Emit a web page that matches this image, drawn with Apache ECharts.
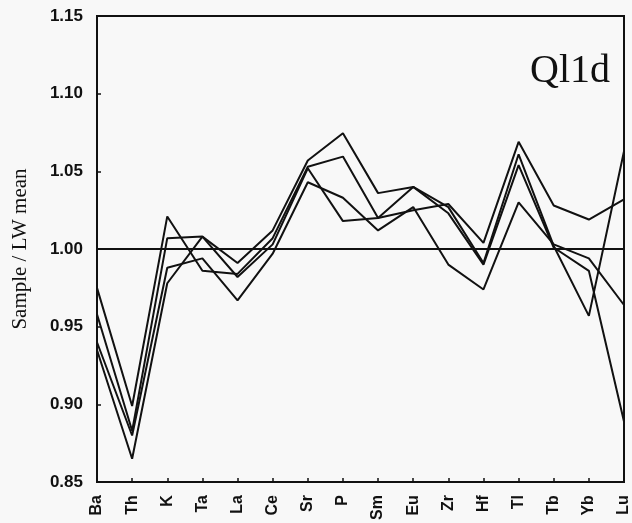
<!DOCTYPE html>
<html>
<head>
<meta charset="utf-8">
<script src="https://cdn.jsdelivr.net/npm/echarts@6/dist/echarts.min.js"></script>
<style>
html,body{margin:0;padding:0;background:#f8f8f8;}
#c{width:632px;height:523px;}
</style>
</head>
<body>
<div id="c"></div>
<script>
const categories = ["Ba","Th","K","Ta","La","Ce","Sr","P","Sm","Eu","Zr","Hf","Tl","Tb","Yb","Lu"];
const sampleA = [0.975,0.899,1.021,0.986,0.984,1.007,1.053,1.0595,1.020,1.040,1.023,0.990,1.054,1.001,0.986,0.889];
const sampleB = [0.958,0.883,1.007,1.008,0.991,1.012,1.057,1.0745,1.036,1.040,1.027,0.991,1.061,1.002,0.957,1.063];
const sampleC = [0.940,0.880,0.988,0.994,0.967,0.997,1.043,1.033,1.012,1.027,0.990,0.974,1.030,1.003,0.994,0.964];
const sampleD = [0.935,0.865,0.978,1.008,0.982,1.003,1.052,1.018,1.020,1.025,1.029,1.004,1.069,1.028,1.019,1.032];
const yTicks = [0.85,0.90,0.95,1.00,1.05,1.10,1.15];
const referenceValue = 1.00;
const panelLabel = "Ql1d";
const yAxisTitle = "Sample / LW mean";

const chart = echarts.init(document.getElementById('c'), null, {renderer:'canvas'});
const lineStyle = {color:'#111', width:2};
function mk(name, data, withRef){
  const s = {name, type:'line', data, symbol:'none', lineStyle, itemStyle:{color:'#111'}, animation:false, z:3};
  if (withRef) {
    s.markLine = {symbol:'none', silent:true, label:{show:false}, lineStyle:{color:'#111', width:2, type:'solid'}, data:[{yAxis:referenceValue}]};
  }
  return s;
}
chart.setOption({
  backgroundColor:'#f8f8f8',
  animation:false,
  title:{text:panelLabel, left:525, top:46, textStyle:{fontFamily:'Liberation Serif', fontSize:40, fontWeight:'normal', color:'#111'}},
  grid:{left:97, right:5, top:16, bottom:40, show:true, borderColor:'#111', borderWidth:2, backgroundColor:'transparent'},
  xAxis:{
    type:'category', data:categories, boundaryGap:false,
    axisLine:{show:true, lineStyle:{color:'#111', width:2}},
    axisTick:{show:true, inside:true, length:4, alignWithLabel:true, lineStyle:{color:'#111', width:1.5}},
    axisLabel:{rotate:90, margin:13, fontFamily:'Liberation Sans', fontWeight:'bold', fontSize:16, color:'#111', interval:0},
    splitLine:{show:false}
  },
  yAxis:{
    type:'value', min:0.85, max:1.15, interval:0.05,
    name:yAxisTitle, nameLocation:'middle', nameGap:66,
    nameTextStyle:{fontFamily:'Liberation Serif', fontSize:21, color:'#111'},
    axisLine:{show:true, lineStyle:{color:'#111', width:2}},
    axisTick:{show:true, inside:true, length:4, lineStyle:{color:'#111', width:1.5}},
    axisLabel:{margin:14, fontFamily:'Liberation Sans', fontWeight:'bold', fontSize:17, color:'#111',
      formatter:v=>{const t=yTicks.find(x=>Math.abs(x-v)<1e-6); return t===undefined?'':t.toFixed(2);}},
    splitLine:{show:false}
  },
  series:[mk('A',sampleA,true), mk('B',sampleB), mk('C',sampleC), mk('D',sampleD)]
});
</script>
</body>
</html>
